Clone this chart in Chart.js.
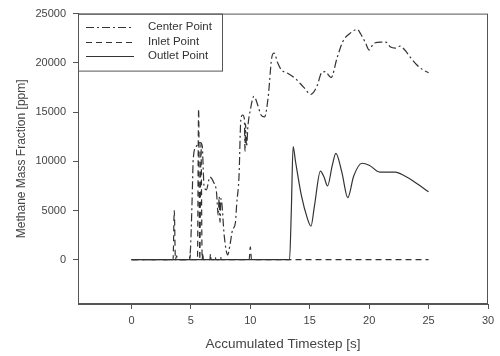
<!DOCTYPE html>
<html>
<head>
<meta charset="utf-8">
<script src="https://cdn.jsdelivr.net/npm/chart.js@4"></script>
<style>
  html, body { margin: 0; padding: 0; background: #fff; }
  #wrap { width: 500px; height: 356px; }
</style>
</head>
<body>
<div id="wrap"><canvas id="chart" width="500" height="356"></canvas></div>
<script>
// series labels
const seriesNames = ["Center Point", "Inlet Point", "Outlet Point"];

// Center Point: [time s, ppm]
const centerX = [0, 4.8, 4.95, 5.1, 5.2, 5.45, 5.8, 5.95, 6.1, 6.3, 6.6, 6.9, 7.15, 7.3, 7.38, 7.45, 7.52, 7.6, 7.8, 8.1, 8.3, 8.5, 8.75, 8.85, 9.05, 9.2, 9.35, 9.5, 9.55, 9.6, 9.68, 9.8, 10.0, 10.3, 10.6, 10.9, 11.2, 11.5, 11.8, 12.0, 12.3, 12.6, 13.2, 13.8, 14.5, 15.1, 15.6, 16.0, 16.3, 16.8, 17.3, 17.8, 18.4, 19.0, 19.3, 19.7, 20.0, 20.4, 21.0, 21.4, 21.8, 22.2, 22.6, 23.0, 23.5, 24.0, 24.5, 25.0];
const centerY = [0, 0, 800, 6000, 10300, 11500, 11900, 11600, 7600, 7100, 8400, 7900, 6900, 4500, 6400, 3800, 6200, 5800, 2500, 500, 1600, 3000, 3800, 5600, 8500, 14200, 14700, 14300, 11000, 13800, 11500, 13600, 15200, 16600, 15800, 14700, 14500, 16500, 20500, 21000, 20000, 19300, 18900, 18400, 17500, 16800, 17600, 19000, 19100, 18500, 20500, 22200, 23000, 23400, 22900, 22000, 21300, 22000, 22100, 22100, 21600, 21500, 21700, 21300, 20500, 19800, 19300, 19000];

// Inlet Point
const inletX = [0, 3.5, 3.6, 3.7, 3.8, 3.9, 4.9, 4.95, 5.0, 5.55, 5.65, 5.75, 5.85, 5.95, 6.0, 6.05, 6.6, 6.65, 6.7, 7.0, 7.05, 7.1, 7.45, 7.5, 7.55, 9.9, 10.0, 10.1, 25.0];
const inletY = [0, 0, 5000, 0, 400, 0, 0, 500, 0, 0, 15300, 0, 11800, 0, 700, 0, 0, 600, 0, 0, 300, 0, 0, 300, 0, 0, 1300, 0, 0];

// Outlet Point
const outletX = [0, 13.3, 13.45, 13.6, 13.8, 14.3, 14.8, 15.1, 15.4, 15.9, 16.2, 16.5, 16.9, 17.2, 17.7, 18.2, 18.7, 19.4, 20.0, 20.9, 21.5, 22.2, 23.0, 23.7, 24.4, 25.0];
const outletY = [0, 0, 5000, 11500, 10000, 6500, 4200, 3400, 5500, 9000, 8400, 7500, 9600, 10800, 8900, 6300, 8500, 9800, 9600, 8900, 8900, 8900, 8500, 8000, 7400, 6900];

const xTicks = [0, 5, 10, 15, 20, 25, 30];
const yTicks = [0, 5000, 10000, 15000, 20000, 25000];

const lineColor = "#333333";
const dashes = [[8, 3, 2, 3], [6, 4], []];
const fontFam = "'Liberation Sans', Arial, sans-serif";

function toPoints(xs, ys) {
    return xs.map((x, i) => ({ x: x, y: ys[i] }));
}

// frame around plot + boxed legend in upper left
const framePlugin = {
    id: "frame",
    afterDraw(chart) {
        const { ctx, chartArea: a } = chart;
        ctx.save();
        ctx.strokeStyle = "#555";
        ctx.lineWidth = 1;
        ctx.setLineDash([]);
        ctx.strokeRect(a.left + 0.5, a.top + 0.5, a.right - a.left - 1, a.bottom - a.top - 1);

        // legend box
        const bx = a.left, by = a.top, bw = 144, bh = 57;
        ctx.strokeRect(bx + 0.5, by + 0.5, bw, bh);
        ctx.font = "11.5px " + fontFam;
        ctx.textBaseline = "middle";
        ctx.fillStyle = "#333";
        const rows = [27, 42, 56];
        seriesNames.forEach((name, i) => {
            ctx.strokeStyle = lineColor;
            ctx.setLineDash(dashes[i]);
            ctx.beginPath();
            ctx.moveTo(86, rows[i] + 0.5);
            ctx.lineTo(134, rows[i] + 0.5);
            ctx.stroke();
            ctx.fillText(name, 148, rows[i]);
        });
        ctx.restore();
    }
};

const ctx = document.getElementById("chart").getContext("2d");
new Chart(ctx, {
    type: "line",
    data: {
        datasets: [
            { label: seriesNames[1], data: toPoints(inletX, inletY), borderDash: dashes[1] },
            { label: seriesNames[0], data: toPoints(centerX, centerY), borderDash: dashes[0] },
            { label: seriesNames[2], data: toPoints(outletX, outletY), borderDash: dashes[2] }
        ].map(d => Object.assign(d, {
            borderColor: lineColor,
            borderWidth: 1.2,
            pointRadius: 0,
            fill: false,
            cubicInterpolationMode: "monotone"
        }))
    },
    options: {
        responsive: false,
        animation: false,
        layout: { padding: { top: 13, right: 12, left: 0, bottom: 0 } },
        plugins: { legend: { display: false }, tooltip: { enabled: false } },
        scales: {
            x: {
                type: "linear",
                min: -4.5,
                max: 30,
                afterBuildTicks: s => { s.ticks = xTicks.map(v => ({ value: v })); },
                afterFit: s => { s.height = 52; },
                grid: { drawOnChartArea: false, tickLength: 5, color: "#555" },
                border: { color: "#555" },
                ticks: { color: "#444", font: { size: 11, family: fontFam }, padding: 5, maxRotation: 0, callback: v => String(v) },
                title: { display: true, text: "Accumulated Timestep [s]", color: "#444", font: { size: 13.5, family: fontFam }, padding: { top: 11 } }
            },
            y: {
                min: -4500,
                max: 25000,
                afterBuildTicks: s => { s.ticks = yTicks.map(v => ({ value: v })); },
                afterFit: s => { s.width = 78; },
                grid: { drawOnChartArea: false, tickLength: 5, color: "#555" },
                border: { color: "#555" },
                ticks: { color: "#444", font: { size: 11, family: fontFam }, padding: 7, callback: v => String(v) },
                title: { display: true, text: "Methane Mass Fraction [ppm]", color: "#444", font: { size: 12, family: fontFam }, padding: { top: 14, bottom: 0 } }
            }
        }
    },
    plugins: [framePlugin]
});
</script>
</body>
</html>
